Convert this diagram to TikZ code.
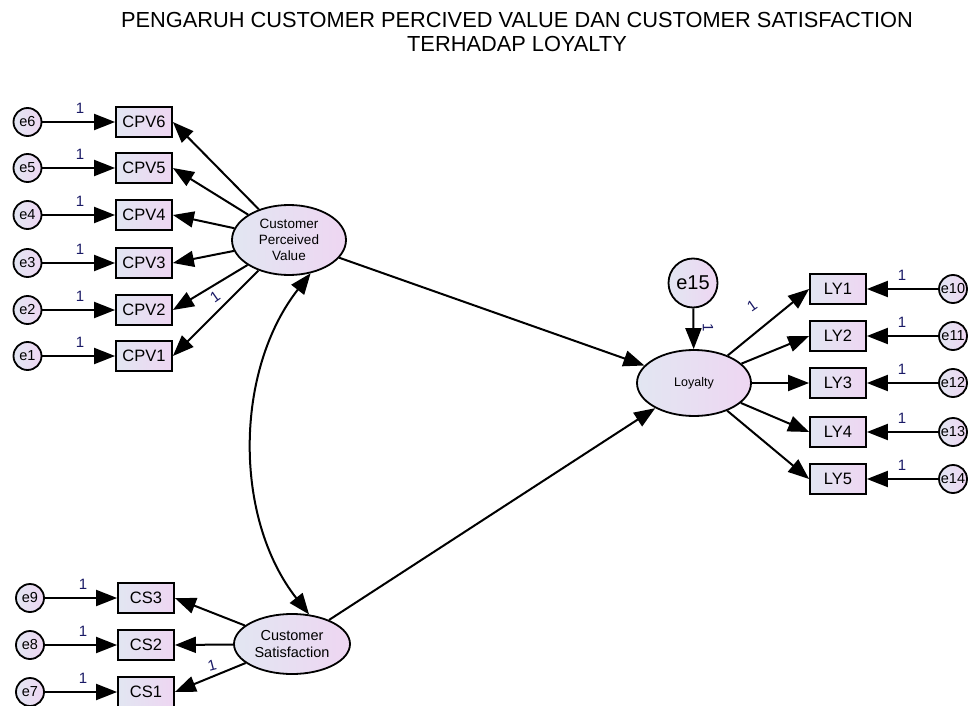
\documentclass[tikz,border=0pt]{standalone}
\usepackage{fontspec}
\setmainfont{Liberation Sans}
\usetikzlibrary{arrows.meta,shapes.geometric}
\definecolor{fillL}{HTML}{E2E6F2}
\definecolor{fillR}{HTML}{EED6F2}
\definecolor{lblc}{HTML}{1A1A66}
\begin{document}
\begin{tikzpicture}[x=1pt,y=-1pt,
  every node/.style={inner sep=0pt},
  lat/.style={ellipse, draw, line width=1.8pt, left color=fillL, right color=fillR, align=center},
  obs/.style={rectangle, draw, line width=1.8pt, left color=fillL, right color=fillR, minimum width=56pt, minimum height=30pt, font=\fontsize{16.5}{18}\selectfont},
  err/.style={circle, draw, line width=1.8pt, left color=fillL, right color=fillR, minimum size=28pt, font=\fontsize{14.5}{15}\selectfont},
  tipA/.tip={Triangle[length=21pt,width=16pt]},
  arr/.style={line width=2pt, -tipA},
  one/.style={text=lblc, font=\fontsize{15}{16}\selectfont},
]
\useasboundingbox (0,0) rectangle (972,706);
\fill[white] (0,0) rectangle (972,706);

\node[font=\fontsize{21.8}{24}\selectfont, align=center] (title) at (517,32)
  {PENGARUH CUSTOMER PERCIVED VALUE DAN CUSTOMER SATISFACTION\\TERHADAP LOYALTY};

% latent variables
\node[lat, minimum width=114pt, minimum height=70pt, font=\fontsize{13.5}{16}\selectfont] (cpv) at (289,240) {Customer\\Perceived\\Value};
\node[lat, minimum width=114pt, minimum height=66pt, font=\fontsize{12.5}{14}\selectfont] (ly) at (694,383) {Loyalty};
\node[lat, minimum width=116pt, minimum height=60pt, font=\fontsize{14.5}{17}\selectfont] (cs) at (292,644) {Customer\\Satisfaction};

% CPV indicators
\foreach \i/\y in {6/122,5/168,4/215,3/263,2/310,1/356}{
  \node[obs] (cpv\i) at (144,\y) {CPV\i};
  \node[err] (e\i) at (27.5,\y) {e\i};
  \draw[arr] (e\i) -- (cpv\i);
  \draw[arr] (cpv) -- (cpv\i.east);
  \node[one] (l\i) at (80,\y-14) {1};
}

% CS indicators
\foreach \i/\e/\y in {3/9/598,2/8/645,1/7/692}{
  \node[obs] (cs\i) at (146,\y) {CS\i};
  \node[err] (e\e) at (30,\y) {e\e};
  \draw[arr] (e\e) -- (cs\i);
  \draw[arr] (cs) -- (cs\i.east);
  \node[one] (l\e) at (83,\y-14) {1};
}

% LY indicators
\foreach \i/\e/\y in {1/10/289,2/11/336,3/12/383,4/13/432,5/14/479}{
  \node[obs] (ly\i) at (838,\y) {LY\i};
  \node[err] (e\e) at (953,\y) {e\e};
  \draw[arr] (e\e) -- (ly\i);
  \draw[arr] (ly) -- (ly\i.west);
  \node[one] (l\e) at (902,\y-14) {1};
}

% structural
\node[err, minimum size=49pt, font=\fontsize{20}{22}\selectfont] (e15) at (693,283) {e15};
\draw[arr] (e15) -- (ly);
\draw[arr] (cpv) -- (ly);
\draw[arr] (cs) -- (ly);
\draw[line width=2pt, tipA-tipA]
  (cpv.-57) .. controls +(-76,97) and +(-76,-97) .. (cs.60);

% rotated loading labels
\node[one, rotate=35] (r1) at (215,297) {1};
\node[one, rotate=15] (r2) at (212,665) {1};
\node[one, rotate=35] (r3) at (752,306) {1};
\node[one, rotate=-90] (r4) at (708,328) {1};
\end{tikzpicture}
\end{document}
